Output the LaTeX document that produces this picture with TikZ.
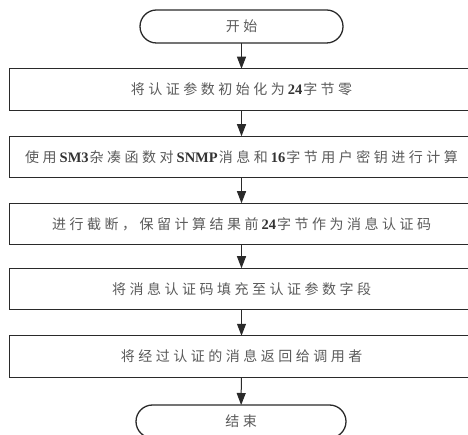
\documentclass[tikz,border=0pt]{standalone}
\usepackage{fontspec}
\newfontfamily\cjkfont[LetterSpace=25]{Noto Sans CJK SC}
\newfontfamily\latfont{Liberation Serif}
\newcommand{\latw}[1]{\hspace{3pt}{\latfont\bfseries\color{latcol}\fontsize{14.5}{16}\selectfont#1}\hspace{1pt}}
\usetikzlibrary{arrows.meta}
\definecolor{txtcol}{HTML}{5A5A5A}
\definecolor{latcol}{HTML}{333333}
\definecolor{linecol}{HTML}{2A2A2A}
\begin{document}
\begin{tikzpicture}[x=1pt,y=-1pt,
  every node/.style={inner sep=0pt,outer sep=0pt,text=txtcol,
    font=\cjkfont\fontsize{14}{16}\selectfont},
  stepbox/.style={draw=linecol,line width=1.3pt,minimum width=464pt,minimum height=41.5pt},
  term/.style={draw=linecol,line width=1.3pt,minimum width=203pt,minimum height=33pt,rounded corners=16.5pt},
  flow/.style={draw=linecol,line width=1pt,-{Triangle[length=12pt,width=9pt]}}]
\useasboundingbox (0,0) rectangle (468,435);
\node[term] (s) at (241.5,26.5) {开始};
\node[stepbox] (b1) at (241.5,89.5) {将认证参数初始化为\latw{24}字节零};
\node[stepbox] (b2) at (241.5,157) {使用\latw{SM3}杂凑函数对\latw{SNMP}消息和\latw{16}字节用户密钥进行计算};
\node[stepbox] (b3) at (241.5,224) {进行截断，保留计算结果前\latw{24}字节作为消息认证码};
\node[stepbox] (b4) at (241.5,289) {将消息认证码填充至认证参数字段};
\node[stepbox] (b5) at (241.5,356.5) {将经过认证的消息返回给调用者};
\node[term,minimum width=210pt] (e) at (241,421.5) {结束};
\draw[flow] (s) -- (b1);
\draw[flow] (b1) -- (b2);
\draw[flow] (b2) -- (b3);
\draw[flow] (b3) -- (b4);
\draw[flow] (b4) -- (b5);
\draw[flow] (b5) -- (e);
\end{tikzpicture}
\end{document}
